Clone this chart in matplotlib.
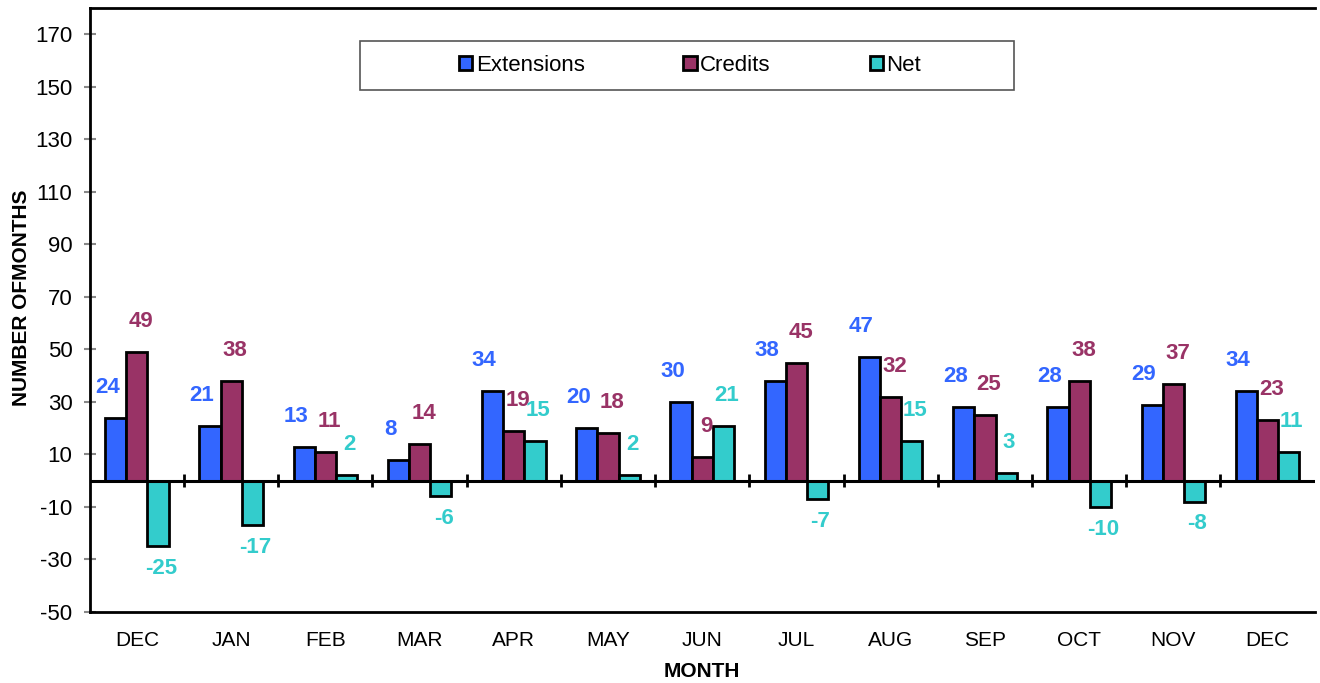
import numpy as np
import matplotlib
matplotlib.use("Agg")
from matplotlib import pyplot as plt
from matplotlib.patches import Rectangle

plt.rcParams['font.family'] = ['Liberation Sans', 'DejaVu Sans']
plt.rcParams['axes.unicode_minus'] = False

months = ["DEC", "JAN", "FEB", "MAR", "APR", "MAY", "JUN",
          "JUL", "AUG", "SEP", "OCT", "NOV", "DEC"]
extensions = [24, 21, 13, 8, 34, 20, 30, 38, 47, 28, 28, 29, 34]
credits = [49, 38, 11, 14, 19, 18, 9, 45, 32, 25, 38, 37, 23]
net = [-25, -17, 2, -6, 15, 2, 21, -7, 15, 3, -10, -8, 11]
series_names = ["Extensions", "Credits", "Net"]
colors = ["#3366FF", "#993366", "#33CCCC"]
yticks = list(range(-50, 171, 20))

fig = plt.figure(figsize=(13.2, 6.83), dpi=100)
ax = fig.add_axes([0.068, 0.104, 0.928, 0.884])

x = np.arange(len(months))
w = 0.225
# per-series label nudges in points (x shift)
dx = [-6, 3, 2]
for i, (vals, name, c) in enumerate(zip([extensions, credits, net], series_names, colors)):
    pos = x + (i - 1) * w
    ax.bar(pos, vals, w, color=c, edgecolor="black", linewidth=2, label=name, zorder=3)
    for xp, v in zip(pos, vals):
        off = 22 if v >= 0 else -16
        ax.annotate(str(v), (xp, v), xytext=(dx[i], off), textcoords="offset points",
                    ha="center", va="center", fontsize=16, fontweight="bold",
                    color=c, zorder=5)

ax.axhline(0, color="black", linewidth=2.2, zorder=4)
ax.vlines(x[:-1] + 0.5, -2.4, 2.4, color="black", linewidth=2, zorder=4)

ax.set_xlim(-0.5, len(months) - 0.5)
ax.set_ylim(-50, 180)
ax.set_yticks(yticks)
ax.set_xticks(x)
ax.set_xticklabels(months, fontsize=15)
ax.tick_params(axis="x", length=0, pad=14)
ax.tick_params(axis="y", labelsize=16, direction="inout", length=9, width=1.5,
               color="#888888", pad=8)

ax.spines["right"].set_visible(False)
for s in ["left", "top", "bottom"]:
    ax.spines[s].set_linewidth(2)

ax.set_xlabel("MONTH", fontsize=15, fontweight="bold", labelpad=8)
ax.set_ylabel("NUMBER OFMONTHS", fontsize=15, fontweight="bold")
ax.yaxis.set_label_coords(-0.048, 0.52)

# legend box
fig.patches.append(Rectangle((360 / 1320, 1 - 90 / 683), 654 / 1320, 49 / 683,
                             transform=fig.transFigure, fill=False,
                             edgecolor="#555555", linewidth=1.2))
fig.legend(loc="center", bbox_to_anchor=(690 / 1320, 1 - 65.5 / 683), ncol=3,
           frameon=False, fontsize=16, handlelength=0.6, handleheight=0.6,
           handletextpad=0.15, columnspacing=4.45)

fig.savefig("out.png", dpi=100)
